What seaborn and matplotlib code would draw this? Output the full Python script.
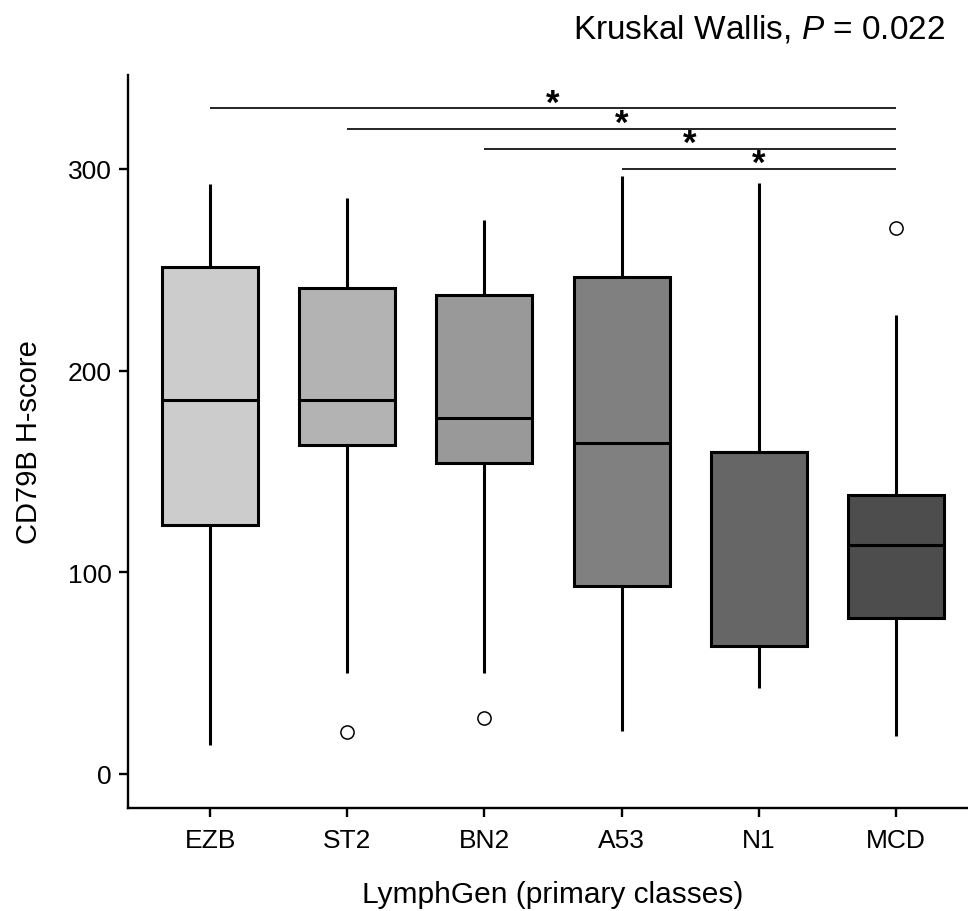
import numpy as np
import pandas as pd
import matplotlib
matplotlib.use("Agg")
import matplotlib.pyplot as plt
import seaborn as sns

# LymphGen classes and CD79B H-score box summaries
classes = ["EZB", "ST2", "BN2", "A53", "N1", "MCD"]
whisker_low = [14.4, 50.1, 50.1, 21.5, 42.5, 18.7]
q1 = [123.6, 163.3, 154.0, 93.2, 63.6, 77.4]
median = [185.6, 185.5, 176.7, 164.0, 159.7, 113.7]
q3 = [251.6, 240.8, 237.5, 246.4, 159.7, 138.2]
whisker_high = [292.6, 285.4, 274.9, 296.7, 293.0, 227.8]
outliers = [[], [20.7], [27.5], [], [], [270.9]]
fills = ["#CCCCCC", "#B3B3B3", "#999999", "#808080", "#666666", "#4D4D4D"]

# pairwise comparisons against MCD (start class, end class, bar height, label)
comparisons = [("EZB", "MCD", 330, "*"),
               ("ST2", "MCD", 320, "*"),
               ("BN2", "MCD", 310, "*"),
               ("A53", "MCD", 300, "*")]
test_label = "Kruskal Wallis, "
test_p = "0.022"

# sample values per class that reproduce each five-number summary
rows = []
for i, c in enumerate(classes):
    vals = ([whisker_low[i]] * 4 + [q1[i]] * 4 + [median[i]] * 4 +
            [q3[i]] * 4 + [whisker_high[i]] * 4 + outliers[i])
    rows += [(c, v) for v in vals]
df = pd.DataFrame(rows, columns=["LymphGen", "score"])

sns.set_theme(style="ticks")
plt.rcParams["font.family"] = ["Liberation Sans", "DejaVu Sans"]
plt.rcParams["text.color"] = "black"
plt.rcParams["axes.labelcolor"] = "black"
plt.rcParams["mathtext.fontset"] = "custom"
plt.rcParams["mathtext.it"] = "Liberation Sans:italic"
plt.rcParams["mathtext.rm"] = "Liberation Sans"

fig = plt.figure(figsize=(9.68, 9.12), dpi=100)
ax = fig.add_axes([0.1322, 0.1129, 0.8781, 0.8038])

lw = 2.2
sns.boxplot(data=df, x="LymphGen", y="score", order=classes, hue="LymphGen",
            hue_order=classes, palette=fills, legend=False, width=0.7,
            linewidth=lw, linecolor="black", whis=1.5, ax=ax,
            boxprops=dict(edgecolor="black"),
            medianprops=dict(color="black", linewidth=lw),
            whiskerprops=dict(color="black", linewidth=lw),
            capprops=dict(linewidth=0),
            flierprops=dict(marker="o", markersize=9.5, markerfacecolor="white",
                            markeredgecolor="black", markeredgewidth=1.1))

pos = {c: i for i, c in enumerate(classes)}
for a, b, h, lab in comparisons:
    ax.plot([pos[a], pos[b]], [h, h], color="black", lw=1.2, solid_capstyle="butt")
    ax.text((pos[a] + pos[b]) / 2, h - 2.0, lab, ha="center", va="baseline",
            fontsize=25, fontweight="bold", color="black")

ax.set_xlim(-0.6, 5.6)
ax.set_ylim(-16.9, 346.6)
ax.set_yticks([0, 100, 200, 300])
ax.set_xlabel("LymphGen (primary classes)", fontsize=21.5, labelpad=20)
ax.set_ylabel("CD79B H-score", fontsize=21, labelpad=18)
ax.tick_params(axis="both", labelsize=19, length=6.5, width=1.7, color="black",
               labelcolor="black")
ax.tick_params(axis="x", pad=8)
ax.tick_params(axis="y", pad=5)
for s in ["top", "right"]:
    ax.spines[s].set_visible(False)
for s in ["left", "bottom"]:
    ax.spines[s].set_linewidth(1.7)
    ax.spines[s].set_color("black")

fig.text(0.976, 0.968, test_label + r"$\mathit{P}$" + " = " + test_p,
         ha="right", va="center", fontsize=24, color="black")

fig.savefig("out.png", dpi=100)
